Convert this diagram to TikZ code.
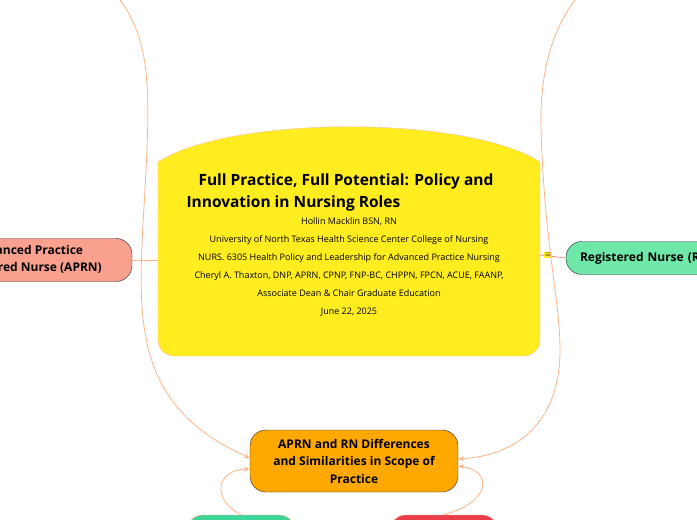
\documentclass[tikz,border=0pt]{standalone}
\usepackage{fontspec}
\setmainfont{Open Sans}
\usetikzlibrary{arrows.meta}
\definecolor{linkc}{HTML}{FBB48A}
\definecolor{centrec}{HTML}{FFED1F}
\definecolor{aprnc}{HTML}{F9A08F}
\definecolor{rnc}{HTML}{6EE7A8}
\definecolor{scopec}{HTML}{FFA800}
\definecolor{greenc}{HTML}{3DD598}
\definecolor{redc}{HTML}{EA3F48}
\begin{document}
\begin{tikzpicture}[x=1pt,y=-1pt,
    % style for topic boxes
    topic/.style={draw=black!85, rounded corners=16pt, font=\bfseries\fontsize{12}{17.5}\selectfont, align=center, inner sep=0pt},
    % style for the curved links
    link/.style={draw=linkc, thick},
    arrowlink/.style={link, -{Stealth[length=6pt,width=5pt,open]}}
]
    \useasboundingbox (0,0) rectangle (697,520);
    \clip (0,0) rectangle (697,520);

    % --- central topic ---
    \fill[centrec, draw=aprnc!70] (158,162) .. controls (230,115) and (468,115) .. (540,162)
        -- (540,340) arc[start angle=0,end angle=90,radius=16] -- (174,356)
        arc[start angle=90,end angle=180,radius=16] -- cycle;
    \node[font=\bfseries\fontsize{15.5}{22}\selectfont, align=left] (title) at (340,192)
        {\hspace*{12pt}Full Practice, Full Potential: Policy and\\Innovation in Nursing Roles\hspace*{90pt}};
    \node[font=\fontsize{9}{18}\selectfont, align=center, anchor=north] (info) at (349,214)
        {Hollin Macklin BSN, RN\\University of North Texas Health Science Center College of Nursing\\
        NURS. 6305 Health Policy and Leadership for Advanced Practice Nursing\\
        Cheryl A. Thaxton, DNP, APRN, CPNP, FNP-BC, CHPPN, FPCN, ACUE, FAANP,\\
        Associate Dean \& Chair Graduate Education\\June 22, 2025};
    \coordinate (cl) at (158,260);
    \coordinate (cr) at (540,255);

    % --- main topics ---
    \node[topic, fill=aprnc, minimum width=208pt, minimum height=43pt] (aprn) at (28,260)
        {Advanced Practice\\Registered Nurse (APRN)};
    \node[topic, fill=rnc, minimum width=200pt, minimum height=33pt, text width=190pt, align=left] (rn) at (666,258)
        {\hspace*{9pt}Registered Nurse (RN)};
    \node[topic, fill=scopec, minimum width=208pt, minimum height=62pt] (scope) at (354,461)
        {APRN and RN Differences\\and Similarities in Scope of\\Practice};
    \node[topic, draw=aprnc, fill=greenc, minimum width=108pt, minimum height=30pt] (green) at (241,530) {};
    \node[topic, draw=aprnc, fill=redc, minimum width=108pt, minimum height=30pt] (red) at (444,530) {};

    % --- links ---
    \draw[link] (aprn.east) -- (cl);
    \draw[draw=redc!60, thick] (cr) -- (rn.west);
    \node[fill=centrec, font=\fontsize{7}{7}\selectfont\bfseries, inner sep=1pt] (note) at (548,255) {$\equiv$};
    \coordinate (tl) at (120,0);
    \coordinate (tr) at (575,0);
    \draw[arrowlink] (tl) .. controls (150,40) and (150,90) .. (146,170)
        .. controls (140,300) and (120,400) .. (scope.west |- 0,458) ;
    \draw[arrowlink] (tr) .. controls (545,40) and (540,90) .. (541,130)
        .. controls (545,250) and (560,300) .. (560,350)
        .. controls (560,420) and (520,455) .. (scope.east |- 0,459);
    \draw[arrowlink] (green.north) .. controls (212,500) and (215,470) .. (scope.west |- 0,469);
    \draw[arrowlink] (red.north) .. controls (495,500) and (490,470) .. (scope.east |- 0,466);
\end{tikzpicture}
\end{document}
